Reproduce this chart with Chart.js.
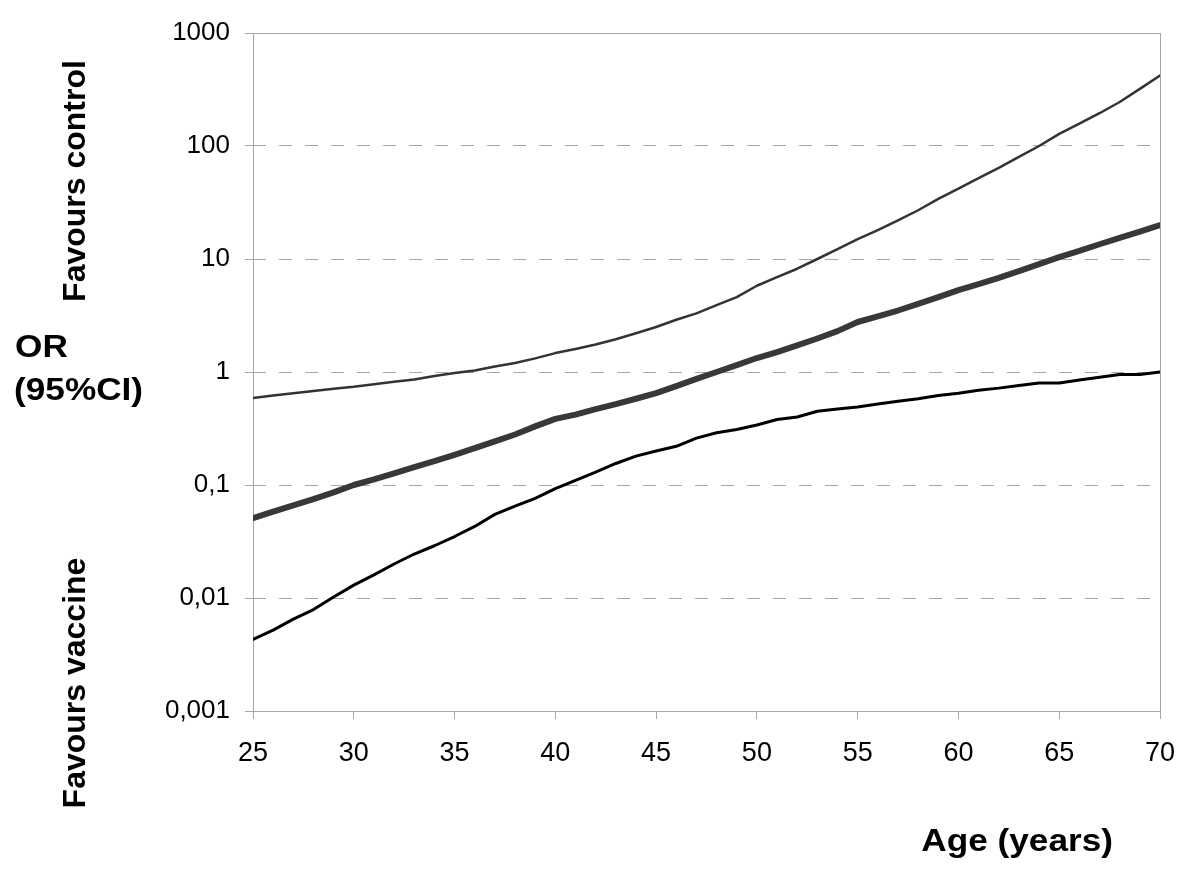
<!DOCTYPE html>
<html lang="en">
<head>
  <meta charset="UTF-8">
  <title>OR (95%CI) by age</title>
  <script src="https://cdn.jsdelivr.net/npm/chart.js"></script>
  <style>
    body { margin: 0; background: #fff; }
  </style>
</head>
<body>
  <canvas id="myChart" width="1200" height="879"></canvas>

<script>
  // ages 25..70, one point a year
  const ages = [25, 26, 27, 28, 29, 30, 31, 32, 33, 34, 35, 36, 37, 38, 39, 40, 41, 42, 43, 44, 45, 46, 47,
    48, 49, 50, 51, 52, 53, 54, 55, 56, 57, 58, 59, 60, 61, 62, 63, 64, 65, 66, 67, 68, 69, 70];

  const upperCI = [0.59, 0.62, 0.65, 0.68, 0.71, 0.74, 0.78, 0.82, 0.86, 0.92, 0.98, 1.03, 1.12, 1.2, 1.32,
    1.47, 1.6, 1.75, 1.95, 2.2, 2.5, 2.9, 3.3, 3.9, 4.6, 5.8, 6.9, 8.2, 10, 12.2, 15, 18, 22, 27, 34, 42,
    52, 64, 80, 100, 128, 158, 195, 245, 320, 420];

  const oddsRatio = [0.051, 0.058, 0.066, 0.075, 0.086, 0.1, 0.112, 0.127, 0.144, 0.163, 0.185, 0.212, 0.243,
    0.28, 0.33, 0.385, 0.42, 0.47, 0.52, 0.58, 0.65, 0.75, 0.87, 1.0, 1.15, 1.33, 1.5, 1.72, 1.98, 2.3, 2.77,
    3.1, 3.5, 4.0, 4.6, 5.3, 6.0, 6.8, 7.8, 9.0, 10.4, 11.8, 13.5, 15.4, 17.5, 19.9];

  const lowerCI = [0.0043, 0.0052, 0.0065, 0.0079, 0.0102, 0.013, 0.016, 0.02, 0.0245, 0.029, 0.035, 0.043,
    0.055, 0.065, 0.076, 0.093, 0.11, 0.13, 0.155, 0.18, 0.2, 0.22, 0.26, 0.29, 0.31, 0.34, 0.38, 0.4, 0.45,
    0.47, 0.49, 0.52, 0.55, 0.58, 0.62, 0.65, 0.69, 0.72, 0.76, 0.8, 0.8, 0.85, 0.9, 0.95, 0.95, 1.0];

  const yTickValues = [0.001, 0.01, 0.1, 1, 10, 100, 1000];
  const yTickLabels = ['0,001', '0,01', '0,1', '1', '10', '100', '1000'];

  const toPoints = (vals) => ages.map((a, i) => ({ x: a, y: vals[i] }));

  const FONT = "'Liberation Sans', Arial, sans-serif";

  // slightly wide bold text, like the original export
  function wideText(ctx, text, x, y) {
    ctx.save();
    ctx.translate(x, y);
    ctx.scale(1.1, 1);
    ctx.fillText(text, 0, 0);
    ctx.restore();
  }

  // frame round the plot and the loose axis titles
  const extras = {
    id: 'extras',
    beforeDatasetsDraw(chart) {
      const { ctx, chartArea: a } = chart;
      ctx.save();
      ctx.strokeStyle = '#a6a6a6';
      ctx.lineWidth = 1;
      ctx.strokeRect(a.left + 0.5, a.top + 0.5, a.right - a.left, a.bottom - a.top);
      ctx.restore();
    },
    afterDraw(chart) {
      const ctx = chart.ctx;
      ctx.save();
      ctx.fillStyle = '#000';
      ctx.font = 'bold 32px ' + FONT;
      ctx.textBaseline = 'middle';
      ctx.textAlign = 'left';
      wideText(ctx, 'OR', 15, 348);
      wideText(ctx, '(95%CI)', 14, 391);
      ctx.textAlign = 'right';
      wideText(ctx, 'Age (years)', 1113, 842);

      ctx.textAlign = 'center';
      ctx.translate(76, 181);
      ctx.rotate(-Math.PI / 2);
      ctx.fillText('Favours control', 0, 0);
      ctx.rotate(Math.PI / 2);
      ctx.translate(0, 683 - 181);
      ctx.rotate(-Math.PI / 2);
      ctx.fillText('Favours vaccine', 0, 0);
      ctx.restore();
    }
  };

  const ctx = document.getElementById('myChart');

  const myChart = new Chart(ctx, {
    type: 'line',
    data: {
      datasets: [
        {
          label: 'Upper 95% CI',
          data: toPoints(upperCI),
          borderColor: '#333333',
          borderWidth: 2.5
        },
        {
          label: 'Lower 95% CI',
          data: toPoints(lowerCI),
          borderColor: '#000000',
          borderWidth: 3
        },
        {
          label: 'OR',
          data: toPoints(oddsRatio),
          borderColor: '#383838',
          borderWidth: 6
        }
      ]
    },
    options: {
      responsive: false,
      animation: false,
      elements: {
        point: { radius: 0 },
        line: { tension: 0, borderCapStyle: 'round', borderJoinStyle: 'round' }
      },
      layout: { padding: { left: 0, right: 40, top: 33, bottom: 0 } },
      plugins: {
        legend: { display: false },
        tooltip: { enabled: false }
      },
      scales: {
        x: {
          type: 'linear',
          min: 25,
          max: 70,
          afterFit: (s) => { s.height = 168; },
          ticks: {
            stepSize: 5,
            padding: 18,
            color: '#000',
            font: { family: FONT, size: 27 }
          },
          grid: {
            drawOnChartArea: false,
            tickLength: 8,
            tickColor: '#a6a6a6'
          },
          border: { display: false }
        },
        y: {
          type: 'logarithmic',
          min: 0.001,
          max: 1000,
          afterFit: (s) => { s.width = 253; },
          afterBuildTicks: (s) => { s.ticks = yTickValues.map(v => ({ value: v })); },
          ticks: {
            padding: 15,
            color: '#000',
            font: { family: FONT, size: 26 },
            callback: (value, index) => yTickLabels[index]
          },
          grid: {
            color: '#a6a6a6',
            lineWidth: 1,
            tickLength: 8,
            tickColor: '#a6a6a6'
          },
          border: { display: false, dash: [13, 13] }
        }
      }
    },
    plugins: [extras]
  });
</script>
</body>
</html>
